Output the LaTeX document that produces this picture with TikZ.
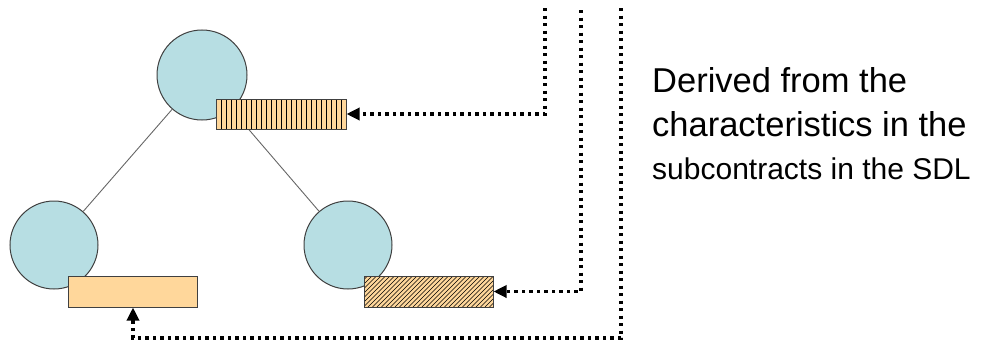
\documentclass[tikz,border=0pt]{standalone}
\usepackage{fontspec}
\setmainfont{Liberation Sans}
\usetikzlibrary{arrows.meta}
\definecolor{cfill}{RGB}{183,222,227}
\definecolor{cline}{RGB}{64,64,64}
\definecolor{rfill}{RGB}{255,215,155}
\tikzset{
  disc/.style={circle,draw=cline,line width=1pt,fill=cfill,minimum size=#1,inner sep=0pt},
  slot/.style={rectangle,draw=cline,line width=1pt,fill=rfill,minimum width=129pt,minimum height=31pt,inner sep=0pt},
  vhatch/.style={path picture={\foreach \k in {5,10,...,128}{\draw[line width=0.7pt,black] ([xshift=\k pt]path picture bounding box.south west) -- ([xshift=\k pt]path picture bounding box.north west);}}},
  dhatch/.style={path picture={\foreach \k in {-32,-27.5,...,132}{\draw[line width=0.65pt,black] ([xshift=\k pt]path picture bounding box.south west) -- ([xshift=\k pt+31pt]path picture bounding box.north west);}}},
  edge/.style={draw=cline!80,line width=0.9pt},
  dotarrow/.style={draw=black,line width=3.2pt,dash pattern=on 3.2pt off 4.3pt,line cap=butt,-{Triangle[length=13pt,width=12pt]}},
  label1/.style={anchor=base west,inner sep=0pt,font=\fontsize{34.5}{40}\selectfont},
  label2/.style={anchor=base west,inner sep=0pt,font=\fontsize{30}{36}\selectfont}
}
\begin{document}
\begin{tikzpicture}[x=1pt,y=-1pt]
\useasboundingbox (0,0) rectangle (995,340);
% circles
\node[disc=90pt] (ct) at (202,75) {};
\node[disc=88pt] (cl) at (54,245) {};
\node[disc=88pt] (cr) at (348,245) {};
% edges
\draw[edge] (ct) -- (cl);
\draw[edge] (ct) -- (cr);
% slots
\node[slot,vhatch,minimum width=130pt,minimum height=30pt] (rt) at (281,114) {};
\node[slot] (rl) at (133,291.5) {};
\node[slot,dhatch] (rr) at (428.5,291.5) {};
% free ends
\coordinate (t1) at (545,8);
\coordinate (t2) at (581,10);
\coordinate (t3) at (621,8);
\coordinate (k3) at (621,338);
% dotted connectors
\draw[dotarrow] (t1) |- (rt.east);
\draw[dotarrow] (t2) |- (rr.east);
\draw[dotarrow] (t3) -- (k3) -| (rl.south);
% text
\node[label1] (l1) at (652,92) {Derived from the};
\node[label1] (l2) at (652,136) {characteristics in the};
\node[label2] (l3) at (652,179) {subcontracts in the SDL};
\end{tikzpicture}
\end{document}
